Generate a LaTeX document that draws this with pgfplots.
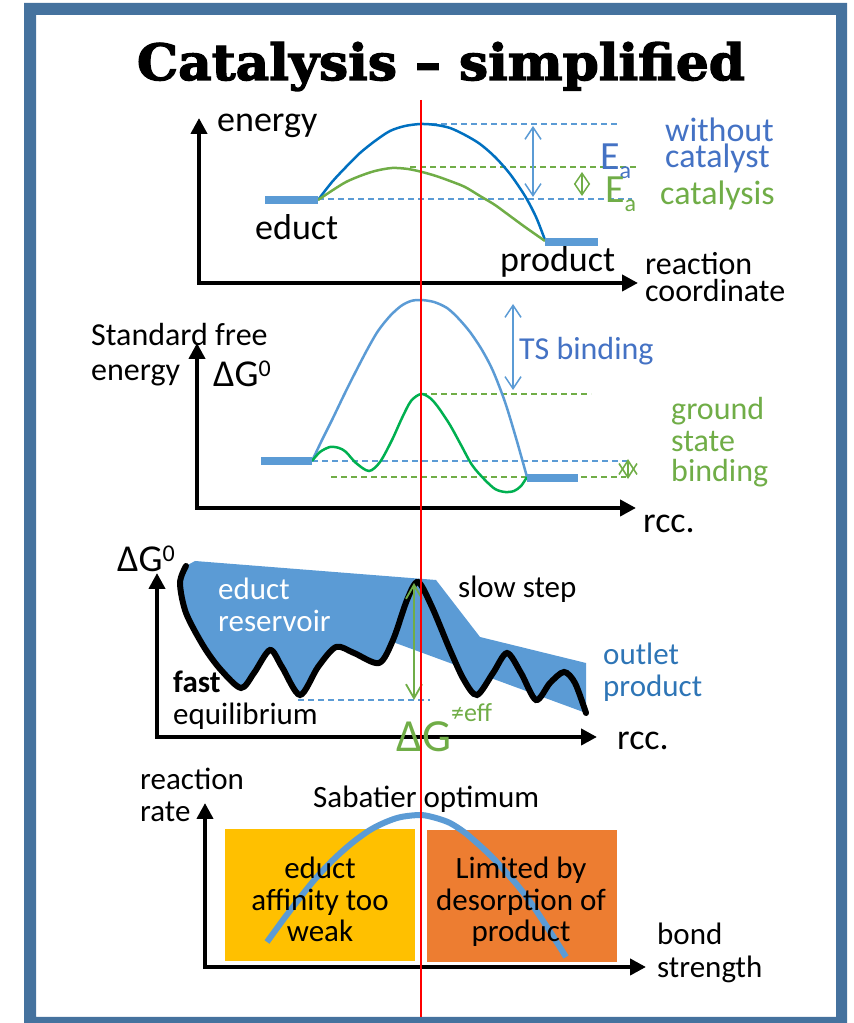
\documentclass[border=0pt]{standalone}
\usepackage{pgfplots}
\pgfplotsset{compat=1.18}
\usepgfplotslibrary{fillbetween}
\usetikzlibrary{arrows.meta}
\usepackage{graphicx}
\usepackage{fontspec}
\setmainfont{Carlito}
\newfontfamily\titlefont{DejaVu Serif}[BoldFeatures={FakeBold=2.5}]
\newcommand\fs[1]{\fontsize{#1bp}{#1bp}\selectfont}
\definecolor{frame}{HTML}{45729E}
\definecolor{dblue}{HTML}{0070C0}
\definecolor{lblue}{HTML}{5B9BD5}
\definecolor{tblue}{HTML}{4472C4}
\definecolor{oblue}{HTML}{2E75B6}
\definecolor{gr}{HTML}{70AD47}
\definecolor{sgr}{HTML}{00B050}
\definecolor{yel}{HTML}{FFC000}
\definecolor{ora}{HTML}{ED7D31}
\begin{document}
\begin{tikzpicture}
\begin{axis}[width=854bp,height=1023bp,scale only axis,xmin=0,xmax=854,ymin=0,ymax=1023,
  y dir=reverse,axis lines=none,clip=false]
\path (0,0) rectangle (854,1023);
% frame
\fill[frame,even odd rule] (24,3) rectangle (847,1023) (36,15) rectangle (836,1017);
% title
\node[anchor=base] at (441,80) {\resizebox{608bp}{38bp}{\titlefont\bfseries Catalysis – simplified}};

%%%%% Panel 1
\draw[line width=4bp,{Triangle[length=16bp,width=16bp]}-{Triangle[length=16bp,width=16bp]}] (199,118) -- (199,283) -- (638,283);
\draw[lblue,line width=1.2bp,dash pattern=on 6bp off 4bp] (421,124) -- (618,124);
\draw[lblue,line width=1.2bp,dash pattern=on 6bp off 4bp] (318,199) -- (632,199);
\draw[gr,line width=1.2bp,dash pattern=on 6bp off 4bp] (410,167) -- (637,167);
\addplot[dblue,line width=2.5bp,smooth] coordinates {(318,200) (332,182) (346,167) (360,153) (375,141) (390,131) (405,126) (421,124) (436,125) (450,128) (465,135) (480,144) (495,157) (510,174) (525,196) (536,217) (545,240)};
\addplot[gr,line width=2.5bp,smooth] coordinates {(318,200) (333,190) (346,182) (360,176) (375,171) (392,168) (408,169) (422,172) (436,176) (450,181) (465,187) (480,196) (495,205) (510,216) (525,227) (545,241)};
\addplot[lblue,line width=8bp] coordinates {(265,200) (318,200)};
\addplot[lblue,line width=8bp] coordinates {(545,242) (598,242)};
\draw[lblue,line width=1.5bp,{Straight Barb[length=12bp,width=16bp]}-{Straight Barb[length=12bp,width=16bp]}] (533,126) -- (533,197);
\draw[gr,line width=1.5bp,{Straight Barb[length=11bp,width=15bp]}-{Straight Barb[length=11bp,width=15bp]}] (582,172) -- (582,196);
\node[anchor=base west,inner sep=0,font=\fs{36}] at (217,132) {energy};
\node[anchor=base west,inner sep=0,font=\fs{36}] at (255,240) {educt};
\node[anchor=base west,inner sep=0,font=\fs{36}] at (500,272) {product};
\node[anchor=base west,inner sep=0,font=\fs{32}] at (645,275) {reaction};
\node[anchor=base west,inner sep=0,font=\fs{32}] at (645,302) {coordinate};
\node[anchor=base west,inner sep=0,font=\fs{34},text=tblue] at (665,142) {without};
\node[anchor=base west,inner sep=0,font=\fs{34},text=tblue] at (665,168) {catalyst};
\node[anchor=base west,inner sep=0,font=\fs{34},text=gr] at (660,205) {catalysis};
\node[anchor=base west,inner sep=0,font=\fs{40},text=tblue] at (600,170) {E\raisebox{-9bp}{\fs{24}a}};
\node[anchor=base west,inner sep=0,font=\fs{40},text=gr] at (605,203) {E\raisebox{-9bp}{\fs{24}a}};

%%%%% Panel 2
\draw[line width=4bp,{Triangle[length=16bp,width=16bp]}-{Triangle[length=16bp,width=16bp]}] (197,343) -- (197,508) -- (636,508);
\draw[gr,line width=1.2bp,dash pattern=on 6bp off 4bp] (421,394) -- (591,394);
\draw[lblue,line width=1.2bp,dash pattern=on 6bp off 4bp] (312,461) -- (630,461);
\draw[gr,line width=1.2bp,dash pattern=on 6bp off 4bp] (331,477) -- (626,477);
\addplot[lblue,line width=2.5bp,smooth] coordinates {(312,461) (322,440) (332,420) (344,395) (355,373) (367,350) (378,331) (390,316) (401,306) (411,301) (421,300) (434,302) (447,308) (458,318) (470,332) (482,350) (493,371) (505,402) (516,438) (527,477)};
\addplot[sgr,line width=2.5bp,smooth] coordinates {(312,461) (320,452) (330,447) (339,448) (346,452) (356,463) (369,471) (380,462) (392,440) (402,418) (411,401) (421,394) (430,398) (438,407) (450,425) (461,445) (472,465) (484,479) (495,489) (505,492) (514,491) (521,486) (527,477)};
\addplot[lblue,line width=8bp] coordinates {(261,461) (312,461)};
\addplot[lblue,line width=8bp] coordinates {(527,478) (578,478)};
\draw[lblue,line width=1.5bp,{Straight Barb[length=12bp,width=16bp]}-{Straight Barb[length=12bp,width=16bp]}] (513,304) -- (513,390);
\draw[gr,line width=1.6bp,{Straight Barb[length=14bp,width=18bp]}-{Straight Barb[length=14bp,width=18bp]}] (628,459) -- (628,479);
\node[anchor=base west,inner sep=0,font=\fs{32}] at (91,346) {Standard free};
\node[anchor=base west,inner sep=0,font=\fs{32}] at (91,381) {energy};
\node[anchor=base west,inner sep=0,font=\fs{38}] at (213,387) {ΔG\raisebox{10bp}{\fs{24}0}};
\node[anchor=base west,inner sep=0,font=\fs{32},text=tblue] at (519,360) {TS binding};
\node[anchor=base west,inner sep=0,font=\fs{32},text=gr] at (671,420) {ground};
\node[anchor=base west,inner sep=0,font=\fs{32},text=gr] at (671,452) {state};
\node[anchor=base west,inner sep=0,font=\fs{32},text=gr] at (671,482) {binding};
\node[anchor=base west,inner sep=0,font=\fs{36}] at (643,533) {rcc.};

%%%%% Panel 3
\draw[line width=4bp,{Triangle[length=16bp,width=16bp]}-{Triangle[length=16bp,width=16bp]}] (157,573) -- (157,737) -- (597,737);
\addplot[name path=top,draw=none] coordinates {(186,566) (195,561) (436,580) (480,637) (586,663) (586,713)};
\addplot[name path=bot,draw=none,smooth] coordinates {(186,566) (180,583) (186,613) (204,647) (221,670) (241,688) (254,673) (270,650) (282,667) (300,695) (318,667) (336,647) (354,653) (379,663) (393,640) (407,600) (418,582) (432,607) (450,650) (464,680) (477,695) (493,673) (507,653) (521,673) (536,700) (550,683) (564,672) (575,683) (586,713)};
\addplot[lblue,draw=none] fill between[of=top and bot];
\addplot[black,line width=6bp,smooth,line cap=round] coordinates {(186,566) (180,583) (186,613) (204,647) (221,670) (241,688) (254,673) (270,650) (282,667) (300,695) (318,667) (336,647) (354,653) (379,663) (393,640) (407,600) (418,582) (432,607) (450,650) (464,680) (477,695) (493,673) (507,653) (521,673) (536,700) (550,683) (564,672) (575,683) (586,713)};
\draw[lblue,line width=1.2bp,dash pattern=on 6bp off 4bp] (298,700) -- (430,700);
\draw[gr,line width=1.8bp,{Straight Barb[length=14bp,width=16bp]}-{Straight Barb[length=14bp,width=16bp]}] (414,583) -- (414,700);
\node[anchor=base west,inner sep=0,font=\fs{38}] at (117,572) {ΔG\raisebox{10bp}{\fs{24}0}};
\node[anchor=base west,inner sep=0,font=\fs{31},text=white] at (218,600) {educt};
\node[anchor=base west,inner sep=0,font=\fs{31},text=white] at (218,632) {reservoir};
\node[anchor=base west,inner sep=0,font=\fs{31}] at (458,598) {slow step};
\node[anchor=base west,inner sep=0,font=\fs{31},text=oblue] at (603,665) {outlet};
\node[anchor=base west,inner sep=0,font=\fs{31},text=oblue] at (603,697) {product};
\node[anchor=base west,inner sep=0,font=\fs{31}\bfseries] at (173,693) {fast};
\node[anchor=base west,inner sep=0,font=\fs{31}] at (173,725) {equilibrium};
\node[anchor=base west,inner sep=0,font=\fs{46},text=gr] at (396,752) {ΔG\raisebox{30bp}{\fs{26}≠eff}};
\node[anchor=base west,inner sep=0,font=\fs{36}] at (617,750) {rcc.};

%%%%% Panel 4
\draw[line width=4bp,{Triangle[length=16bp,width=16bp]}-{Triangle[length=16bp,width=16bp]}] (205,803) -- (205,967) -- (646,967);
\fill[yel] (225,829) rectangle (415,961);
\fill[ora] (427,830) rectangle (617,962);
\addplot[lblue,line width=6bp,smooth] coordinates {(267,942) (283,920) (299,899) (316,878) (334,859) (352,843) (370,830) (386,822) (401,817) (421,815) (436,818) (450,823) (464,832) (477,843) (491,856) (504,870) (518,886) (531,903) (549,930) (566,957)};
\node[anchor=base west,inner sep=0,font=\fs{31}] at (140,790) {reaction};
\node[anchor=base west,inner sep=0,font=\fs{31}] at (140,822) {rate};
\node[anchor=base west,inner sep=0,font=\fs{31}] at (313,808) {Sabatier optimum};
\node[anchor=base,inner sep=0,font=\fs{31}] at (320,879) {educt};
\node[anchor=base,inner sep=0,font=\fs{31}] at (320,911) {affinity too};
\node[anchor=base,inner sep=0,font=\fs{31}] at (320,942) {weak};
\node[anchor=base,inner sep=0,font=\fs{31}] at (521,879) {Limited by};
\node[anchor=base,inner sep=0,font=\fs{31}] at (521,911) {desorption of};
\node[anchor=base,inner sep=0,font=\fs{31}] at (521,942) {product};
\node[anchor=base west,inner sep=0,font=\fs{31}] at (657,945) {bond};
\node[anchor=base west,inner sep=0,font=\fs{31}] at (657,978) {strength};

% red line
\draw[red,line width=1.3bp] (421,100) -- (421,1017);
\end{axis}
\end{tikzpicture}
\end{document}
